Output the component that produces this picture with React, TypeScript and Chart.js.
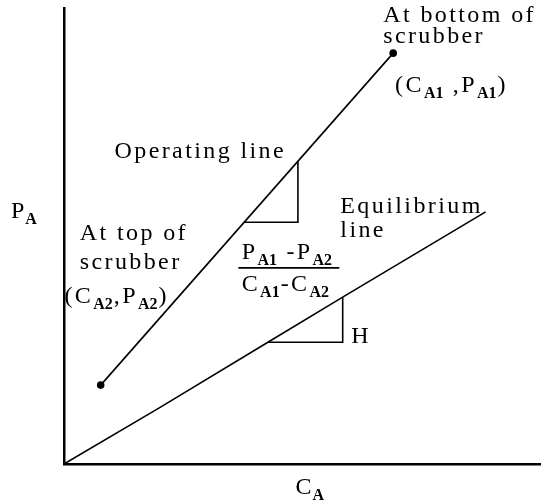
import React, { useEffect, useRef } from "react";
import { Chart, registerables } from "chart.js";

Chart.register(...registerables);

// Lines (arbitrary units on C_A / P_A axes, both 0..100)
const operatingX = [7.7, 69.1];
const operatingY = [17.3, 90.1];
const equilibriumX = [0, 20, 42.8, 58.5, 88.5];
const equilibriumY = [0, 12.3, 26.7, 36.6, 55.3];
// Slope triangles
const opTriangleX = [37.8, 49.1, 49.1];
const opTriangleY = [53.0, 53.0, 66.4];
const eqTriangleX = [42.8, 58.5, 58.5];
const eqTriangleY = [26.7, 26.7, 36.6];

type Part = [string, boolean];
const FONT = '"Liberation Serif"';
const SIZE = 24;

const labels: { parts: Part[]; x: number; y: number }[] = [
  { parts: [["At bottom of", false]], x: 67.0, y: 96.9 },
  { parts: [["scrubber", false]], x: 67.0, y: 92.3 },
  { parts: [["(C", false], ["A1", true], [" ,P", false], ["A1", true], [")", false]], x: 69.5, y: 81.6 },
  { parts: [["Operating line", false]], x: 10.6, y: 67.1 },
  { parts: [["Equilibrium", false]], x: 58.0, y: 55.0 },
  { parts: [["line", false]], x: 58.0, y: 49.8 },
  { parts: [["At top of", false]], x: 3.3, y: 49.1 },
  { parts: [["scrubber", false]], x: 3.3, y: 42.8 },
  { parts: [["(C", false], ["A2", true], [",P", false], ["A2", true], [")", false]], x: 0.1, y: 35.3 },
  { parts: [["P", false], ["A1", true], [" -P", false], ["A2", true]], x: 37.3, y: 45.0 },
  { parts: [["C", false], ["A1", true], ["-C", false], ["A2", true]], x: 37.3, y: 38.0 },
  { parts: [["H", false]], x: 60.3, y: 26.6 },
];
const fractionBar = { x1: 36.6, x2: 57.8, y: 43.0 };

function drawRich(ctx: CanvasRenderingContext2D, parts: Part[], x: number, y: number, spacing = 2.4) {
  let cx = x;
  for (const [t, sub] of parts) {
    if (sub) {
      ctx.font = `bold 16px ${FONT}`;
      (ctx as any).letterSpacing = "0px";
      ctx.fillText(t, cx, y + 6);
      cx += ctx.measureText(t).width + 1;
    } else {
      ctx.font = `${SIZE}px ${FONT}`;
      (ctx as any).letterSpacing = `${spacing}px`;
      ctx.fillText(t, cx, y);
      cx += ctx.measureText(t).width;
    }
  }
  (ctx as any).letterSpacing = "0px";
}

const textPlugin = {
  id: "texts",
  afterDatasetsDraw(chart: any) {
    const { ctx, scales, chartArea } = chart;
    const xs = scales.x;
    const ys = scales.y;
    ctx.save();
    ctx.fillStyle = "#000";
    ctx.textBaseline = "alphabetic";
    ctx.textAlign = "left";
    for (const l of labels) {
      drawRich(ctx, l.parts, xs.getPixelForValue(l.x), ys.getPixelForValue(l.y));
    }
    ctx.strokeStyle = "#000";
    ctx.lineWidth = 1.6;
    ctx.beginPath();
    const by = ys.getPixelForValue(fractionBar.y);
    ctx.moveTo(xs.getPixelForValue(fractionBar.x1), by);
    ctx.lineTo(xs.getPixelForValue(fractionBar.x2), by);
    ctx.stroke();
    // axis titles
    drawRich(ctx, [["P", false], ["A", true]], chartArea.left - 53, ys.getPixelForValue(53.9), 1);
    drawRich(ctx, [["C", false], ["A", true]], xs.getPixelForValue(48.6), chartArea.bottom + 30, 1);
    ctx.restore();
  },
};

function toPts(xs: number[], ys: number[]) {
  return xs.map((x, i) => ({ x, y: ys[i] }));
}

export default function App() {
  const ref = useRef<HTMLCanvasElement>(null);
  useEffect(() => {
    document.body.style.margin = "0";
    const lineBase = {
      showLine: true,
      borderColor: "#000",
      backgroundColor: "#000",
      borderWidth: 1.6,
      pointRadius: 0,
      fill: false,
      tension: 0,
    };
    const chart = new Chart(ref.current!, {
      type: "scatter",
      data: {
        datasets: [
          { ...lineBase, label: "Operating line", data: toPts(operatingX, operatingY), pointRadius: 3 },
          { ...lineBase, label: "Equilibrium line", data: toPts(equilibriumX, equilibriumY) },
          { ...lineBase, label: "Operating slope", data: toPts(opTriangleX, opTriangleY) },
          { ...lineBase, label: "Equilibrium slope", data: toPts(eqTriangleX, eqTriangleY) },
        ],
      },
      options: {
        responsive: false,
        animation: false,
        layout: { padding: { left: 64, top: 8, right: 2, bottom: 40 } },
        plugins: { legend: { display: false }, tooltip: { enabled: false } },
        scales: {
          x: {
            type: "linear",
            min: 0,
            max: 100,
            ticks: { display: false },
            grid: { display: false, drawTicks: false },
            border: { display: true, color: "#000", width: 2.5 },
          },
          y: {
            type: "linear",
            min: 0,
            max: 100,
            ticks: { display: false },
            grid: { display: false, drawTicks: false },
            border: { display: true, color: "#000", width: 2.5 },
          },
        },
      },
      plugins: [textPlugin],
    });
    return () => chart.destroy();
  }, []);
  return <canvas ref={ref} width={546} height={504} style={{ display: "block" }} />;
}
